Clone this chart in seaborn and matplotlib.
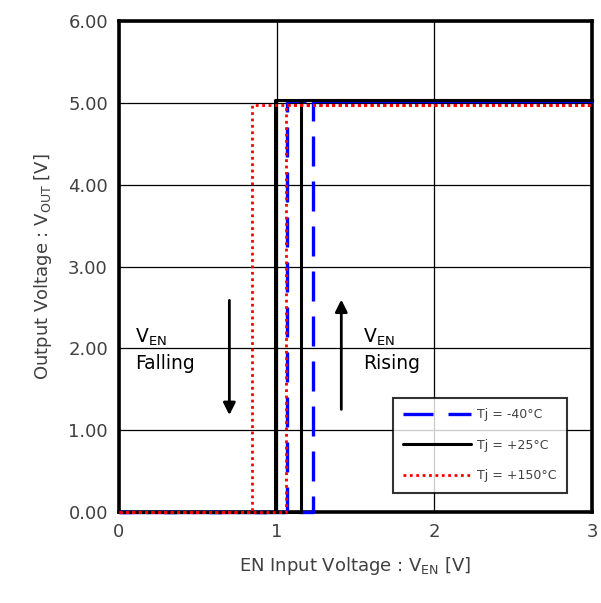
import matplotlib
matplotlib.use("Agg")
import matplotlib.pyplot as plt
import seaborn as sns
import pandas as pd

# Data
series = ["Tj = -40\u00b0C", "Tj = +25\u00b0C", "Tj = +150\u00b0C"]
rise_th = [1.23, 1.155, 1.06]
fall_th = [1.065, 0.99, 0.845]
v_high = [5.02, 5.04, 4.97]
v_low = [0.0, 0.0, 0.0]
x_min, x_max = 0.0, 3.0

rows = []
for name, r, f, hi, lo in zip(series, rise_th, fall_th, v_high, v_low):
    path_x = [x_min, r, r, x_max, x_max, f, f, x_min]
    path_y = [lo, lo, hi, hi, hi, hi, lo, lo]
    for i, (xx, yy) in enumerate(zip(path_x, path_y)):
        rows.append({"series": name, "order": i, "x": xx, "y": yy})
df = pd.DataFrame(rows)

sns.set_style("white")
plt.rcParams["font.family"] = ["DejaVu Sans"]
plt.rcParams["mathtext.default"] = "regular"

fig = plt.figure(figsize=(6.01, 6.03), dpi=100)
ax = fig.add_axes([0.198, 0.151, 0.787, 0.814])

colors = {series[0]: "#0000ff", series[1]: "#000000", series[2]: "#ff0000"}
styles = {series[0]: (0, (9, 4.5)), series[1]: "-", series[2]: (0, (1, 1.3))}
widths = {series[0]: 2.4, series[1]: 2.2, series[2]: 2.0}
zord = {series[0]: 4, series[1]: 5, series[2]: 6}
for s in series:
    d = df[df["series"] == s]
    sns.lineplot(data=d, x="x", y="y", sort=False, estimator=None, ax=ax,
                 color=colors[s], linestyle=styles[s], linewidth=widths[s],
                 label=s, zorder=zord[s], clip_on=False)

ax.set_xlim(0, 3)
ax.set_ylim(0, 6)
ax.set_xticks([0, 1, 2, 3])
ax.set_xticklabels(["0", "1", "2", "3"])
ax.set_yticks([0, 1, 2, 3, 4, 5, 6])
ax.set_yticklabels([f"{v:.2f}" for v in range(7)])
ax.grid(True, color="black", linewidth=0.9)
ax.set_axisbelow(True)
for sp in ax.spines.values():
    sp.set_color("black")
    sp.set_linewidth(2.6)
ax.tick_params(axis="both", length=0, labelsize=13, colors="#404040", pad=8)
ax.set_xlabel(r"EN Input Voltage : V$_{EN}$ [V]", fontsize=13, color="#404040", labelpad=10)
ax.set_ylabel(r"Output Voltage : V$_{OUT}$ [V]", fontsize=13, color="#404040", labelpad=10)

# arrows and annotations
ax.annotate("", xy=(0.70, 1.15), xytext=(0.70, 2.62),
            arrowprops=dict(arrowstyle="-|>", color="black", lw=2, mutation_scale=18))
ax.annotate("", xy=(1.41, 2.63), xytext=(1.41, 1.22),
            arrowprops=dict(arrowstyle="-|>", color="black", lw=2, mutation_scale=18))
ax.text(0.10, 2.14, r"V$_{EN}$", fontsize=13.5, va="center", ha="left", color="black")
ax.text(0.10, 1.81, "Falling", fontsize=13.5, va="center", ha="left", color="black")
ax.text(1.55, 2.14, r"V$_{EN}$", fontsize=13.5, va="center", ha="left", color="black")
ax.text(1.55, 1.81, "Rising", fontsize=13.5, va="center", ha="left", color="black")

handles, labels = ax.get_legend_handles_labels()
leg = ax.legend(handles, labels, loc="lower left", bbox_to_anchor=(0.579, 0.039),
                borderaxespad=0, fontsize=9, frameon=True, fancybox=False,
                edgecolor="black", handlelength=5.4, labelspacing=1.4, borderpad=0.85,
                handletextpad=0.5)
leg.set_zorder(10)
leg.get_frame().set_linewidth(1.5)
for t in leg.get_texts():
    t.set_color("#404040")

fig.savefig("out.png", dpi=100)
